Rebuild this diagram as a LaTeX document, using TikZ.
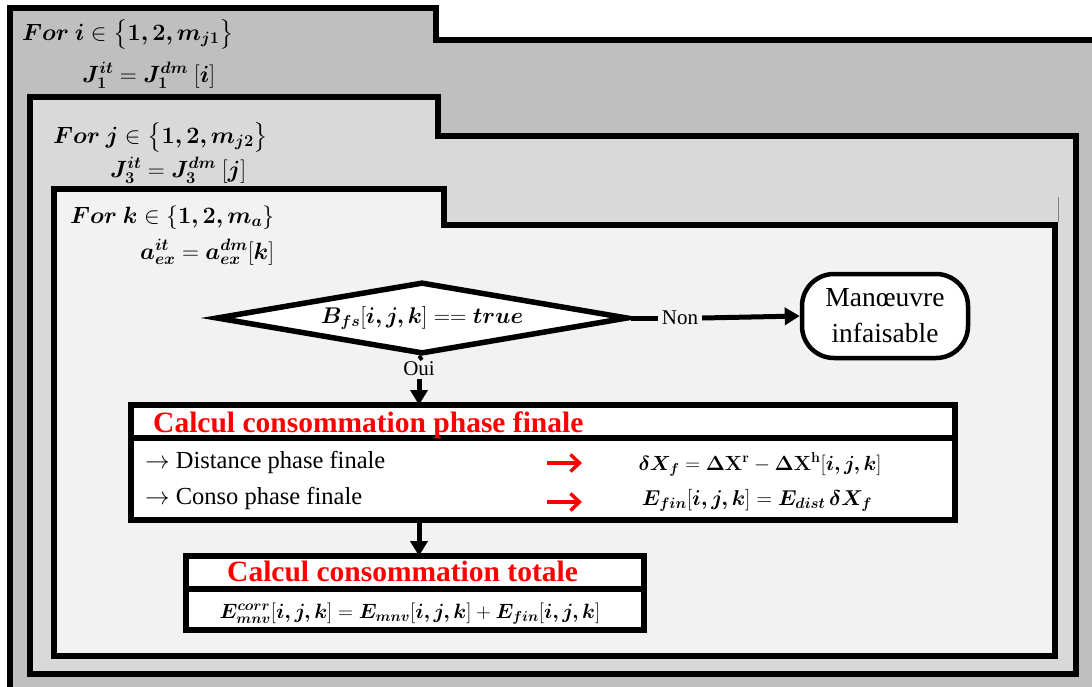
\RequirePackage{fix-cm}
\documentclass[tikz,border=0pt]{standalone}
\usepackage{amsmath}
\usepackage{bm}
\usepackage[no-math]{fontspec}
\setmainfont{Liberation Serif}
\usetikzlibrary{shapes.geometric,arrows.meta}
\definecolor{gA}{HTML}{BFBFBF}
\definecolor{gB}{HTML}{D9D9D9}
\definecolor{gC}{HTML}{F2F2F2}
\definecolor{redT}{HTML}{FF0000}
\newcommand{\setfs}[2]{\fontsize{#1}{#2}\selectfont}
\begin{document}
\begin{tikzpicture}[x=1pt,y=-1pt,
  frame/.style={line width=6pt, line join=miter},
  lbl/.style={inner sep=0pt, anchor=base west},
  loophd/.style={inner sep=0pt, anchor=base west, font=\setfs{23.5}{27}},
  mth/.style={inner sep=0pt, anchor=base},
  arr/.style={line width=5pt, -{Triangle[length=15pt,width=17pt]}},
  cell/.style={draw, line width=6pt, fill=white, inner sep=0pt, outer sep=0pt},
  redarr/.style={draw=redT, line width=3.5pt, -{Straight Barb[length=9pt,width=17pt]}},
  head/.style={inner sep=0pt, anchor=base west, text=redT, font=\bfseries\setfs{29.5}{32}},
]
\useasboundingbox (0,0) rectangle (1092,686);
\clip (0,0) rectangle (1092,686);
\fill[white] (0,0) rectangle (1092,686);
% nested loop frames
\draw[frame, fill=gA] (10,8) -- (436,8) -- (436,40) -- (1110,40) -- (1110,700) -- (10,700) -- cycle;
\draw[frame, fill=gB] (30,97) -- (438,97) -- (438,136) -- (1076,136) -- (1076,674) -- (30,674) -- cycle;
\draw[frame, fill=gC] (54,189) -- (444,189) -- (444,225) -- (1055,225) -- (1055,656) -- (54,656) -- cycle;
\draw[gray, line width=0.8pt] (1058,197) -- (1058,222);
% loop headers
\node[loophd] (fori) at (22,40) {$\bm{For\ i} \in \big\{\bm{1,2,m_{j1}}\big\}$};
\node[loophd] (J1) at (82,82) {$\bm{J_1^{it}} = \bm{J_1^{dm}}\ [\bm{i}]$};
\node[loophd] (forj) at (53,143) {$\bm{For\ j} \in \big\{\bm{1,2,m_{j2}}\big\}$};
\node[loophd] (J3) at (110,177) {$\bm{J_3^{it}} = \bm{J_3^{dm}}\ [\bm{j}]$};
\node[loophd] (fork) at (70,223) {$\bm{For\ k} \in \{\bm{1,2,m_a}\}$};
\node[loophd] (aex) at (140,259) {$\bm{a_{ex}^{it}} = \bm{a_{ex}^{dm}}[\bm{k}]$};
% decision
\node[diamond, draw, line width=5.5pt, fill=white, aspect=5.7, minimum width=412pt, minimum height=72pt, inner sep=0pt, font=\setfs{22.7}{26}] (dec) at (422,318) {$\bm{B_{fs}}[\bm{i,j,k}] == \bm{true}$};
\node[inner sep=0pt, outer sep=4pt, font=\setfs{21}{24}] (non) at (680,318) {Non};
\node[draw, line width=4.5pt, rounded corners=32pt, fill=white, minimum width=166pt, minimum height=84pt, align=center, font=\setfs{27.5}{36}] (inf) at (885,316) {Manœuvre\\infaisable};
\draw[line width=5pt] (dec.east) -- (non.west);
\draw[arr] (non.east) -- (inf.west);
\node[inner sep=0pt, outer sep=3pt, font=\setfs{21}{24}] (oui) at (419,369) {Oui};
\draw[line width=5pt] (dec.south) -- (oui.north);
% box 1
\node[cell, minimum width=824pt, minimum height=33pt, anchor=north] (h1) at (543,405) {};
\node[cell, minimum width=824pt, minimum height=82pt, anchor=north] (b1) at (h1.south) {};
\draw[arr] (oui.south) -- (oui.south |- h1.north);
\node[head] (h1t) at (153,432) {Calcul consommation phase finale};
\node[lbl, font=\setfs{24.5}{28}] (t1) at (145,468) {$\rightarrow$ Distance phase finale};
\node[lbl, font=\setfs{24.5}{28}] (t2) at (145,504) {$\rightarrow$ Conso phase finale};
\coordinate (ra1) at (547,463); \coordinate (rb1) at (582,463);
\coordinate (ra2) at (547,502); \coordinate (rb2) at (582,502);
\draw[redarr] (ra1) -- (rb1);
\draw[redarr] (ra2) -- (rb2);
\node[mth, font=\setfs{20.5}{24}] (f1) at (760,470) {$\bm{\delta X_f} = \bm{\Delta}\mathbf{X}^{\mathbf{r}} - \bm{\Delta}\mathbf{X}^{\mathbf{h}}[\bm{i,j,k}]$};
\node[mth, font=\setfs{21.5}{24}] (f2) at (757,505) {$\bm{E_{fin}}[\bm{i,j,k}] = \bm{E_{dist}}\,\bm{\delta X_f}$};
% box 2
\node[cell, minimum width=458pt, minimum height=33pt, anchor=north] (h2) at (415,556) {};
\node[cell, minimum width=458pt, minimum height=41pt, anchor=north] (b2) at (h2.south) {};
\draw[arr] (oui.south |- b1.south) -- (oui.south |- h2.north);
\node[head] (h2t) at (227,581) {Calcul consommation totale};
\node[mth, font=\setfs{20.7}{24}] (f3) at (410,618) {$\bm{E^{corr}_{mnv}}[\bm{i,j,k}] = \bm{E_{mnv}}[\bm{i,j,k}] + \bm{E_{fin}}[\bm{i,j,k}]$};
\end{tikzpicture}
\end{document}
